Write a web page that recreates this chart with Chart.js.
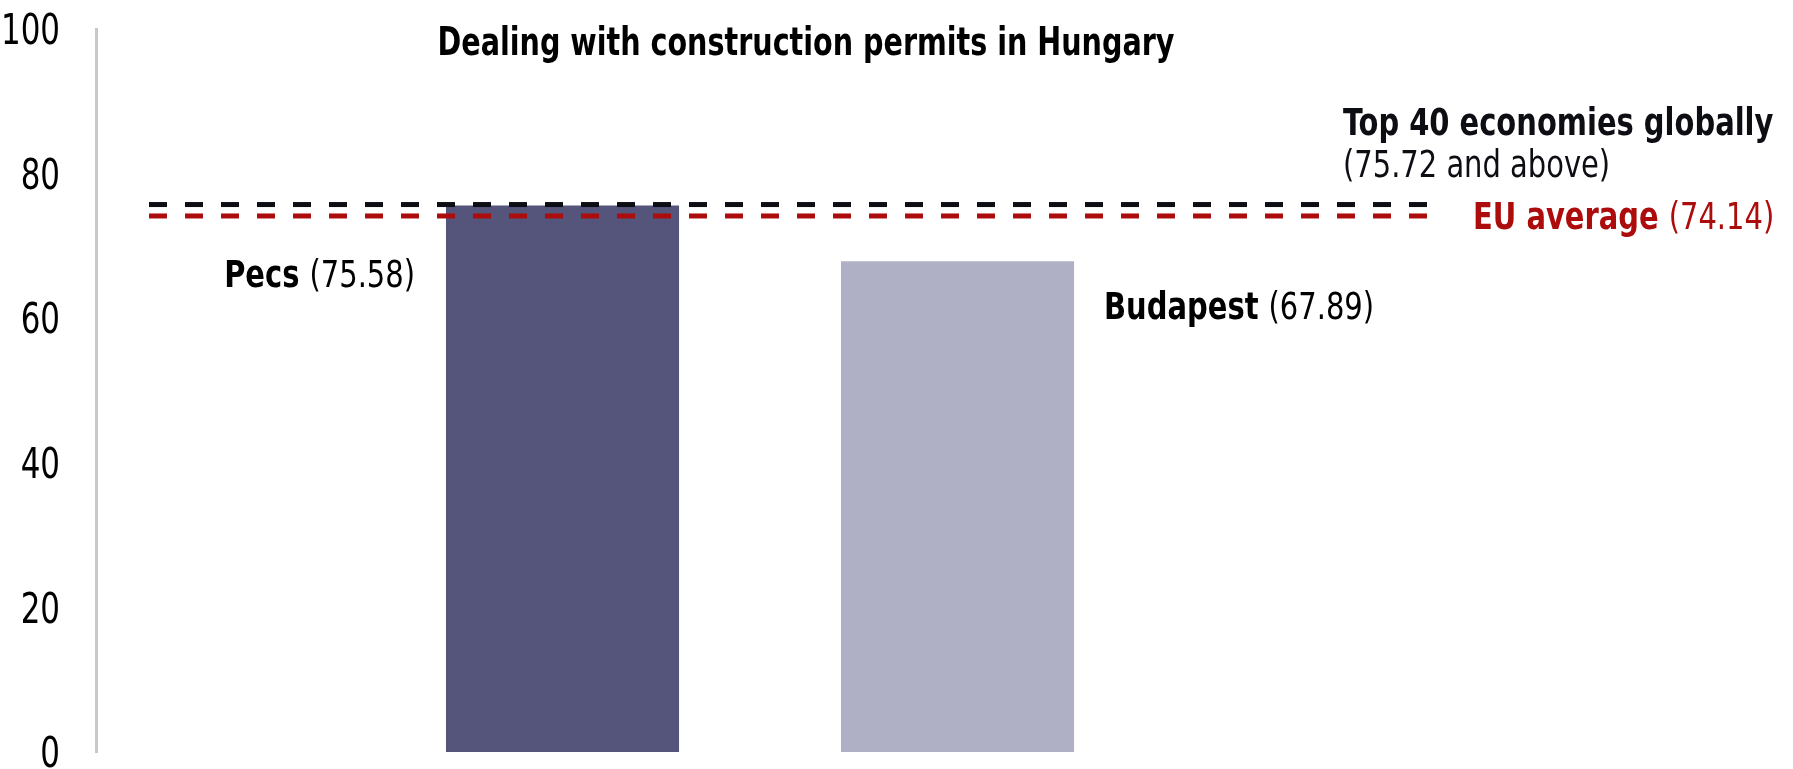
<!DOCTYPE html>
<html>
<head>
<meta charset="utf-8">
<script src="https://cdn.jsdelivr.net/npm/chart.js@4.4.1/dist/chart.umd.min.js"></script>
<style>
  html, body { margin: 0; padding: 0; background: #ffffff; }
  #wrap { position: relative; width: 1793px; height: 769px; }
</style>
</head>
<body>
<div id="wrap"><canvas id="c" width="1793" height="769"></canvas></div>
<script>
const categories = ['Pecs', 'Budapest'];
const scores = [75.58, 67.89];
const barColors = ['#55557b', '#afafc5'];
const refNames = ['Top 40 economies globally', 'EU average'];
const refValues = [75.72, 74.14];
const refNotes = ['(75.72 and above)', '(74.14)'];
const refColors = ['#0d0d14', '#ad0c0c'];
const yTicks = [0, 20, 40, 60, 80, 100];
const titleText = 'Dealing with construction permits in Hungary';

const FONT = '"DejaVu Sans Condensed", "Liberation Sans", sans-serif';
const SX = 0.87;      // horizontal condensing of annotation text
const LABEL_PX = 37;

// draw mixed-weight text on one alphabetic baseline, horizontally condensed by sx
function drawRich(ctx, parts, x, baseline, align, sx) {
  let total = 0;
  const widths = parts.map(p => { ctx.font = p.font; const w = ctx.measureText(p.text).width; total += w; return w; });
  const shown = total * sx;
  const startX = align === 'right' ? x - shown : (align === 'center' ? x - shown / 2 : x);
  ctx.save();
  ctx.translate(startX, baseline);
  ctx.scale(sx, 1);
  ctx.textBaseline = 'alphabetic';
  ctx.textAlign = 'left';
  let cx = 0;
  parts.forEach((p, i) => { ctx.font = p.font; ctx.fillStyle = p.color; ctx.fillText(p.text, cx, 0); cx += widths[i]; });
  ctx.restore();
}

const annotationPlugin = {
  id: 'annot',
  afterDatasetsDraw(chart) {
    const ctx = chart.ctx;
    const area = chart.chartArea;
    const ys = chart.scales.y;
    ctx.save();
    refValues.forEach((v, i) => {
      const py = ys.getPixelForValue(v);
      ctx.beginPath();
      ctx.setLineDash([18, 18]);
      ctx.lineWidth = 5;
      ctx.strokeStyle = refColors[i];
      ctx.moveTo(area.left + 53, py);
      ctx.lineTo(area.right, py);
      ctx.stroke();
    });
    ctx.setLineDash([]);
    const bold = 'bold ' + LABEL_PX + 'px ' + FONT, reg = LABEL_PX + 'px ' + FONT;
    const y0 = ys.getPixelForValue(refValues[0]);
    const y1 = ys.getPixelForValue(refValues[1]);
    drawRich(ctx, [{text: refNames[0], font: bold, color: refColors[0]}], area.right - 100, y0 - 70, 'left', SX);
    drawRich(ctx, [{text: refNotes[0], font: reg, color: refColors[0]}], area.right - 100, y0 - 28, 'left', SX);
    drawRich(ctx, [{text: refNames[1] + ' ', font: bold, color: refColors[1]}, {text: refNotes[1], font: reg, color: refColors[1]}], area.right + 30, y1 + 13, 'left', SX);
    const meta = chart.getDatasetMeta(0);
    const b0 = meta.data[0], b1 = meta.data[1];
    drawRich(ctx, [{text: categories[0] + ' ', font: bold, color: '#000'}, {text: '(' + scores[0].toFixed(2) + ')', font: reg, color: '#000'}], b0.x - b0.width / 2 - 31, b0.y + 81, 'right', SX);
    drawRich(ctx, [{text: categories[1] + ' ', font: bold, color: '#000'}, {text: '(' + scores[1].toFixed(2) + ')', font: reg, color: '#000'}], b1.x + b1.width / 2 + 30, b1.y + 58, 'left', SX);
    drawRich(ctx, [{text: titleText, font: 'bold 39px ' + FONT, color: '#000'}], 806, 55, 'center', 0.815);
    ctx.restore();
  }
};

new Chart(document.getElementById('c'), {
  type: 'bar',
  data: {
    datasets: [{
      data: categories.map((c, i) => ({ x: i + 1, y: scores[i] })),
      backgroundColor: barColors,
      borderWidth: 0,
      barPercentage: 0.59,
      categoryPercentage: 1.0
    }]
  },
  options: {
    responsive: false,
    animation: false,
    events: [],
    layout: { padding: { left: 0, right: 350, top: 29, bottom: 17 } },
    plugins: { legend: { display: false }, tooltip: { enabled: false }, title: { display: false } },
    scales: {
      x: {
        type: 'linear',
        min: -0.181,
        max: 3.229,
        display: false,
        offset: false,
        afterBuildTicks: (s) => { s.ticks = []; }
      },
      y: {
        min: 0,
        max: 100,
        afterBuildTicks: (s) => { s.ticks = yTicks.map(v => ({ value: v })); },
        afterFit: (s) => {
          s.width = 96; s.paddingTop = 0; s.paddingBottom = 0;
          if (!s._condensed) {
            const orig = s.drawLabels.bind(s);
            s._computeLabelArea = () => undefined;
            s.drawLabels = (area) => {
              const ctx = s.ctx;
              const ax = s.right - s.options.ticks.padding;
              ctx.save();
              ctx.translate(ax, 4); ctx.scale(0.8, 1); ctx.translate(-ax, 0);
              orig(area);
              ctx.restore();
            };
            s._condensed = true;
          }
        },
        grid: { display: false, drawTicks: false },
        border: { display: true, color: '#c8c8c8', width: 3 },
        ticks: { color: '#000', padding: 36, font: { family: FONT, size: 43 } }
      }
    }
  },
  plugins: [annotationPlugin]
});
</script>
</body>
</html>
